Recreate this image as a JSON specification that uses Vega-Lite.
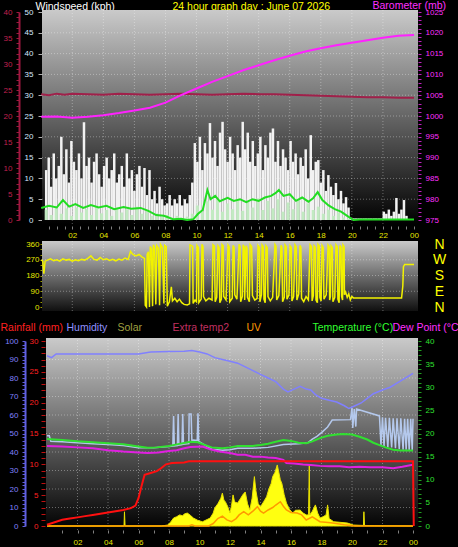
{
"$schema": "https://vega.github.io/schema/vega-lite/v6.json",
"width": 458, "height": 547,
"autosize": {"type": "none"},
"padding": 0,
"background": "#000000",
"usermeta": {"embedOptions": {"actions": false}},
"config": {"view": {"stroke": null}, "axis": {"labelFont": "Liberation Sans", "titleFont": "Liberation Sans", "labelFontSize": 8, "titleFontSize": 10.5, "titleFontWeight": "normal", "grid": false, "labelOverlap": false, "labelFlush": false, "labelBound": false, "titleAngle": 0, "titleAlign": "left", "titleBaseline": "alphabetic", "titlePadding": 0}},
"datasets": {
"one": [{"k": 1}],
"hrs": [{"h":2},{"h":4},{"h":6},{"h":8},{"h":10},{"h":12},{"h":14},{"h":16},{"h":18},{"h":20},{"h":22}],
"gw": [{"v":5},{"v":10},{"v":15},{"v":20},{"v":25},{"v":30},{"v":35},{"v":40},{"v":45}],
"gd": [{"v":90},{"v":180},{"v":270}],
"gh": [{"v":10},{"v":20},{"v":30},{"v":40},{"v":50},{"v":60},{"v":70},{"v":80},{"v":90}],
"gust": [{"m":0,"v":12},{"m":10,"v":15},{"m":20,"v":8},{"m":30,"v":16},{"m":40,"v":10},{"m":50,"v":13},{"m":60,"v":20},{"m":70,"v":11},{"m":80,"v":17},{"m":90,"v":9},{"m":100,"v":19},{"m":110,"v":14},{"m":120,"v":12},{"m":130,"v":16},{"m":140,"v":10},{"m":150,"v":23.5},{"m":160,"v":13},{"m":170,"v":15},{"m":180,"v":9},{"m":190,"v":14},{"m":200,"v":16},{"m":210,"v":11},{"m":220,"v":8},{"m":230,"v":13},{"m":240,"v":15},{"m":250,"v":10},{"m":260,"v":12},{"m":270,"v":16},{"m":280,"v":9},{"m":290,"v":11},{"m":300,"v":13},{"m":310,"v":8},{"m":320,"v":16},{"m":330,"v":10},{"m":340,"v":12},{"m":350,"v":7},{"m":360,"v":11},{"m":370,"v":13},{"m":380,"v":8},{"m":390,"v":12.5},{"m":400,"v":6},{"m":410,"v":12},{"m":420,"v":5},{"m":430,"v":7},{"m":440,"v":4},{"m":450,"v":8},{"m":460,"v":5},{"m":470,"v":3.5},{"m":480,"v":4},{"m":490,"v":6},{"m":500,"v":3.5},{"m":510,"v":5},{"m":520,"v":4},{"m":530,"v":6},{"m":540,"v":3.5},{"m":550,"v":5},{"m":560,"v":4},{"m":570,"v":6},{"m":580,"v":9},{"m":590,"v":18.5},{"m":600,"v":14},{"m":610,"v":20},{"m":620,"v":12},{"m":630,"v":18.5},{"m":640,"v":16},{"m":650,"v":23.3},{"m":660,"v":15},{"m":670,"v":19},{"m":680,"v":13},{"m":690,"v":21},{"m":700,"v":23.6},{"m":710,"v":17},{"m":720,"v":14},{"m":730,"v":20},{"m":740,"v":16},{"m":750,"v":12},{"m":760,"v":18},{"m":770,"v":15},{"m":780,"v":23.6},{"m":790,"v":17},{"m":800,"v":21},{"m":810,"v":14},{"m":820,"v":19},{"m":830,"v":13},{"m":840,"v":16},{"m":850,"v":20},{"m":860,"v":12},{"m":870,"v":18},{"m":880,"v":15},{"m":890,"v":21},{"m":900,"v":22},{"m":910,"v":14},{"m":920,"v":19},{"m":930,"v":13},{"m":940,"v":17},{"m":950,"v":15},{"m":960,"v":12},{"m":970,"v":19},{"m":980,"v":14},{"m":990,"v":16},{"m":1000,"v":11},{"m":1010,"v":15},{"m":1020,"v":13},{"m":1030,"v":17},{"m":1040,"v":10},{"m":1050,"v":20.4},{"m":1060,"v":12},{"m":1070,"v":14},{"m":1080,"v":14.4},{"m":1090,"v":9},{"m":1100,"v":12},{"m":1110,"v":7},{"m":1120,"v":10.8},{"m":1130,"v":8},{"m":1140,"v":6},{"m":1150,"v":8.9},{"m":1160,"v":5},{"m":1170,"v":7},{"m":1180,"v":4},{"m":1190,"v":5.5},{"m":1200,"v":3},{"m":1210,"v":0.4},{"m":1220,"v":0.4},{"m":1230,"v":0.4},{"m":1240,"v":0.4},{"m":1250,"v":0.4},{"m":1260,"v":0.4},{"m":1270,"v":0.4},{"m":1280,"v":0.4},{"m":1290,"v":0.4},{"m":1300,"v":0.4},{"m":1310,"v":0.4},{"m":1320,"v":0.4},{"m":1330,"v":0.4},{"m":1340,"v":2},{"m":1350,"v":1.5},{"m":1360,"v":2.5},{"m":1370,"v":1},{"m":1380,"v":2},{"m":1390,"v":5.3},{"m":1400,"v":1.5},{"m":1410,"v":2.5},{"m":1420,"v":4.8},{"m":1430,"v":1}],
"speed": [{"m":0,"v":2.5},{"m":20,"v":1.2},{"m":40,"v":3.2},{"m":60,"v":1.5},{"m":80,"v":2.8},{"m":100,"v":1.0},{"m":120,"v":3.0},{"m":140,"v":1.8},{"m":160,"v":2.6},{"m":180,"v":1.2},{"m":200,"v":3.0},{"m":220,"v":1.6},{"m":240,"v":2.4},{"m":260,"v":1.0},{"m":280,"v":3.0},{"m":300,"v":1.8},{"m":320,"v":2.6},{"m":340,"v":1.2},{"m":360,"v":3.2},{"m":380,"v":1.5},{"m":400,"v":2.2},{"m":420,"v":1.0},{"m":440,"v":1.6},{"m":460,"v":0.8},{"m":480,"v":1.2},{"m":500,"v":0.5},{"m":520,"v":1.0},{"m":540,"v":0.4},{"m":560,"v":0.8},{"m":580,"v":1.5},{"m":600,"v":3.5},{"m":620,"v":2.0},{"m":640,"v":4.5},{"m":660,"v":2.5},{"m":680,"v":4.8},{"m":700,"v":2.0},{"m":720,"v":4.0},{"m":740,"v":2.6},{"m":760,"v":5.0},{"m":780,"v":2.2},{"m":800,"v":4.4},{"m":820,"v":3.0},{"m":840,"v":5.2},{"m":860,"v":2.4},{"m":880,"v":4.6},{"m":900,"v":2.8},{"m":920,"v":5.0},{"m":940,"v":2.0},{"m":960,"v":4.2},{"m":980,"v":2.6},{"m":1000,"v":4.8},{"m":1020,"v":2.0},{"m":1040,"v":4.0},{"m":1060,"v":2.4},{"m":1080,"v":3.2},{"m":1100,"v":1.5},{"m":1120,"v":2.5},{"m":1140,"v":1.0},{"m":1160,"v":1.8},{"m":1180,"v":0.6},{"m":1200,"v":0.3}],
"avg": [{"h":0,"v":2.9},{"h":0.5,"v":3.4},{"h":1.0,"v":3.0},{"h":1.4,"v":4.8},{"h":1.8,"v":3.2},{"h":2.2,"v":3.8},{"h":2.7,"v":2.9},{"h":3.2,"v":3.6},{"h":3.7,"v":3.0},{"h":4.2,"v":3.4},{"h":4.7,"v":2.6},{"h":5.3,"v":3.1},{"h":5.8,"v":2.7},{"h":6.4,"v":2.9},{"h":6.9,"v":2.2},{"h":7.4,"v":1.2},{"h":7.9,"v":1.0},{"h":8.5,"v":0.2},{"h":9.0,"v":0.3},{"h":9.4,"v":0.0},{"h":9.8,"v":0.2},{"h":10.1,"v":1.5},{"h":10.4,"v":2.4},{"h":10.7,"v":7.2},{"h":10.9,"v":5.0},{"h":11.2,"v":5.8},{"h":11.5,"v":4.5},{"h":12.0,"v":5.3},{"h":12.4,"v":4.6},{"h":12.8,"v":5.0},{"h":13.2,"v":4.3},{"h":13.6,"v":5.0},{"h":14.0,"v":4.6},{"h":14.4,"v":5.4},{"h":14.8,"v":5.8},{"h":15.1,"v":6.5},{"h":15.3,"v":7.2},{"h":15.6,"v":5.8},{"h":16.0,"v":6.2},{"h":16.4,"v":4.6},{"h":16.8,"v":5.4},{"h":17.2,"v":4.4},{"h":17.5,"v":5.2},{"h":17.8,"v":6.7},{"h":18.1,"v":4.8},{"h":18.5,"v":3.5},{"h":18.9,"v":2.6},{"h":19.3,"v":2.0},{"h":19.7,"v":1.0},{"h":20.1,"v":0.0},{"h":20.5,"v":0.1},{"h":24,"v":0.1}],
"baro": [{"h":0,"v":999.8},{"h":1,"v":999.9},{"h":2,"v":999.6},{"h":3,"v":999.8},{"h":4,"v":1000.2},{"h":5,"v":1000.7},{"h":6,"v":1001.3},{"h":7,"v":1002.0},{"h":8,"v":1003.2},{"h":9,"v":1005.0},{"h":10,"v":1006.6},{"h":11,"v":1008.2},{"h":12,"v":1009.6},{"h":13,"v":1011.0},{"h":14,"v":1012.2},{"h":15,"v":1013.4},{"h":16,"v":1014.5},{"h":17,"v":1015.5},{"h":18,"v":1016.3},{"h":19,"v":1017.0},{"h":20,"v":1017.6},{"h":21,"v":1018.2},{"h":22,"v":1018.8},{"h":23,"v":1019.3},{"h":24,"v":1019.5}],
"xt": [{"h":0,"v":24.2},{"h":0.5,"v":24.0},{"h":1.0,"v":24.3},{"h":1.5,"v":24.1},{"h":2,"v":24.3},{"h":3,"v":24.2},{"h":4,"v":24.1},{"h":5,"v":24.3},{"h":6,"v":24.2},{"h":7,"v":24.1},{"h":8,"v":24.2},{"h":9,"v":24.3},{"h":10,"v":24.2},{"h":11,"v":24.1},{"h":12,"v":24.2},{"h":13,"v":24.3},{"h":14,"v":24.2},{"h":15,"v":24.2},{"h":16,"v":24.1},{"h":17,"v":24.0},{"h":18,"v":23.9},{"h":19,"v":23.8},{"h":20,"v":23.7},{"h":21,"v":23.6},{"h":22,"v":23.6},{"h":23,"v":23.5},{"h":24,"v":23.5}],
"dir": [{"h":0,"v":270},{"h":0.1,"v":262},{"h":0.17,"v":190},{"h":0.25,"v":262},{"h":0.4,"v":268},{"h":0.6,"v":275},{"h":0.8,"v":265},{"h":1.0,"v":270},{"h":1.2,"v":262},{"h":1.4,"v":275},{"h":1.6,"v":268},{"h":1.8,"v":272},{"h":2.0,"v":262},{"h":2.2,"v":270},{"h":2.4,"v":265},{"h":2.6,"v":272},{"h":2.8,"v":268},{"h":3.0,"v":278},{"h":3.2,"v":292},{"h":3.4,"v":272},{"h":3.6,"v":268},{"h":3.8,"v":283},{"h":4.0,"v":270},{"h":4.2,"v":276},{"h":4.4,"v":266},{"h":4.6,"v":272},{"h":4.8,"v":264},{"h":5.0,"v":274},{"h":5.2,"v":268},{"h":5.4,"v":280},{"h":5.6,"v":272},{"h":5.75,"v":318},{"h":5.9,"v":300},{"h":6.1,"v":292},{"h":6.3,"v":300},{"h":6.5,"v":285},{"h":6.65,"v":278},{"h":6.7,"v":10},{"h":6.78,"v":0},{"h":6.82,"v":300},{"h":6.9,"v":315},{"h":6.97,"v":0},{"h":7.02,"v":345},{"h":7.1,"v":330},{"h":7.17,"v":5},{"h":7.22,"v":355},{"h":7.3,"v":340},{"h":7.38,"v":15},{"h":7.44,"v":350},{"h":7.55,"v":335},{"h":7.62,"v":10},{"h":7.68,"v":358},{"h":7.8,"v":340},{"h":7.9,"v":20},{"h":7.95,"v":352},{"h":8.05,"v":345},{"h":8.12,"v":5},{"h":8.25,"v":30},{"h":8.38,"v":115},{"h":8.45,"v":35},{"h":8.6,"v":50},{"h":8.75,"v":30},{"h":8.9,"v":45},{"h":9.05,"v":25},{"h":9.2,"v":15},{"h":9.4,"v":12},{"h":9.55,"v":18},{"h":9.58,"v":355},{"h":9.7,"v":350},{"h":9.75,"v":345},{"h":9.78,"v":20},{"h":9.9,"v":40},{"h":10.0,"v":30},{"h":10.03,"v":352},{"h":10.12,"v":340},{"h":10.15,"v":25},{"h":10.3,"v":45},{"h":10.35,"v":358},{"h":10.42,"v":345},{"h":10.45,"v":60},{"h":10.6,"v":35},{"h":10.8,"v":50},{"h":11.0,"v":40},{"h":11.06,"v":356},{"h":11.15,"v":348},{"h":11.2,"v":30},{"h":11.3,"v":55},{"h":11.38,"v":350},{"h":11.45,"v":340},{"h":11.5,"v":25},{"h":11.6,"v":45},{"h":11.64,"v":358},{"h":11.72,"v":350},{"h":11.75,"v":60},{"h":11.9,"v":40},{"h":12.03,"v":355},{"h":12.1,"v":345},{"h":12.14,"v":30},{"h":12.3,"v":50},{"h":12.35,"v":352},{"h":12.42,"v":340},{"h":12.46,"v":70},{"h":12.6,"v":45},{"h":12.74,"v":358},{"h":12.8,"v":345},{"h":12.84,"v":30},{"h":12.95,"v":60},{"h":13.0,"v":355},{"h":13.08,"v":340},{"h":13.1,"v":40},{"h":13.19,"v":350},{"h":13.25,"v":335},{"h":13.28,"v":55},{"h":13.4,"v":30},{"h":13.45,"v":356},{"h":13.55,"v":345},{"h":13.6,"v":65},{"h":13.75,"v":40},{"h":13.9,"v":50},{"h":13.96,"v":352},{"h":14.05,"v":340},{"h":14.08,"v":30},{"h":14.18,"v":70},{"h":14.22,"v":355},{"h":14.3,"v":345},{"h":14.34,"v":45},{"h":14.42,"v":25},{"h":14.47,"v":350},{"h":14.55,"v":340},{"h":14.6,"v":60},{"h":14.75,"v":35},{"h":14.9,"v":55},{"h":15.05,"v":358},{"h":15.12,"v":348},{"h":15.16,"v":40},{"h":15.3,"v":65},{"h":15.44,"v":352},{"h":15.5,"v":340},{"h":15.54,"v":30},{"h":15.65,"v":55},{"h":15.7,"v":355},{"h":15.78,"v":345},{"h":15.82,"v":45},{"h":15.95,"v":70},{"h":16.02,"v":350},{"h":16.1,"v":340},{"h":16.14,"v":35},{"h":16.25,"v":60},{"h":16.34,"v":356},{"h":16.42,"v":345},{"h":16.46,"v":40},{"h":16.58,"v":75},{"h":16.66,"v":352},{"h":16.72,"v":340},{"h":16.76,"v":50},{"h":16.9,"v":30},{"h":17.05,"v":60},{"h":17.2,"v":40},{"h":17.31,"v":355},{"h":17.4,"v":345},{"h":17.44,"v":35},{"h":17.52,"v":65},{"h":17.57,"v":350},{"h":17.65,"v":340},{"h":17.69,"v":40},{"h":17.78,"v":25},{"h":17.82,"v":358},{"h":17.9,"v":348},{"h":17.94,"v":55},{"h":18.02,"v":35},{"h":18.08,"v":352},{"h":18.16,"v":340},{"h":18.2,"v":45},{"h":18.35,"v":70},{"h":18.47,"v":355},{"h":18.54,"v":345},{"h":18.57,"v":40},{"h":18.62,"v":60},{"h":18.66,"v":350},{"h":18.74,"v":340},{"h":18.78,"v":30},{"h":18.9,"v":55},{"h":18.98,"v":356},{"h":19.06,"v":345},{"h":19.1,"v":45},{"h":19.18,"v":25},{"h":19.23,"v":352},{"h":19.3,"v":340},{"h":19.34,"v":60},{"h":19.4,"v":40},{"h":19.43,"v":355},{"h":19.5,"v":345},{"h":19.52,"v":70},{"h":19.6,"v":85},{"h":19.7,"v":55},{"h":19.8,"v":75},{"h":19.9,"v":40},{"h":20.0,"v":60},{"h":20.1,"v":52},{"h":23.2,"v":52},{"h":23.28,"v":120},{"h":23.32,"v":230},{"h":23.4,"v":243},{"h":24.0,"v":243}],
"hum": [{"h":0,"v":92},{"h":0.3,"v":91},{"h":0.6,"v":93},{"h":2,"v":93},{"h":4,"v":93},{"h":6,"v":93},{"h":6.8,"v":94},{"h":8,"v":94.3},{"h":9,"v":94.5},{"h":9.5,"v":94.8},{"h":10,"v":94},{"h":10.5,"v":93},{"h":11,"v":91},{"h":11.5,"v":90},{"h":12,"v":89},{"h":12.5,"v":88},{"h":13,"v":86},{"h":13.5,"v":84},{"h":14,"v":82},{"h":14.5,"v":80},{"h":15,"v":78},{"h":15.5,"v":74},{"h":15.8,"v":72.5},{"h":16.2,"v":74},{"h":16.6,"v":75.5},{"h":17,"v":74},{"h":17.3,"v":73.5},{"h":17.6,"v":71},{"h":18,"v":69},{"h":18.5,"v":68},{"h":19,"v":67},{"h":19.5,"v":65},{"h":19.8,"v":63.5},{"h":20.2,"v":65},{"h":20.6,"v":66.5},{"h":21,"v":69},{"h":21.4,"v":71.5},{"h":22,"v":73.5},{"h":22.5,"v":75},{"h":23,"v":77.5},{"h":23.6,"v":80.5},{"h":24,"v":82.5}],
"rain": [{"h":0,"v":0.2},{"h":0.5,"v":0.6},{"h":1,"v":1.0},{"h":1.5,"v":1.2},{"h":2,"v":1.4},{"h":2.5,"v":1.6},{"h":3,"v":1.8},{"h":3.5,"v":2.0},{"h":4,"v":2.2},{"h":4.5,"v":2.4},{"h":5,"v":2.6},{"h":5.5,"v":2.9},{"h":5.8,"v":3.3},{"h":6.0,"v":4.5},{"h":6.2,"v":6.5},{"h":6.4,"v":8.3},{"h":6.8,"v":8.6},{"h":7.2,"v":8.9},{"h":7.5,"v":9.4},{"h":7.8,"v":10.0},{"h":8.2,"v":10.2},{"h":9.0,"v":10.3},{"h":9.3,"v":10.5},{"h":24,"v":10.5},{"h":24.05,"v":0}],
"temp": [{"h":0,"v":18.8},{"h":1,"v":18.6},{"h":2,"v":18.3},{"h":3,"v":18.1},{"h":4,"v":17.9},{"h":5,"v":17.7},{"h":6,"v":17.2},{"h":6.6,"v":16.9},{"h":7.2,"v":17.0},{"h":8.0,"v":17.3},{"h":8.6,"v":17.7},{"h":9.4,"v":18.2},{"h":9.9,"v":18.1},{"h":10.3,"v":17.6},{"h":10.8,"v":17.0},{"h":11.5,"v":16.8},{"h":12.0,"v":17.0},{"h":12.5,"v":17.3},{"h":13.0,"v":17.3},{"h":13.5,"v":17.3},{"h":14.0,"v":17.5},{"h":14.5,"v":17.8},{"h":15.0,"v":18.2},{"h":15.5,"v":18.6},{"h":16.0,"v":18.4},{"h":16.5,"v":18.0},{"h":17.0,"v":17.9},{"h":17.4,"v":18.3},{"h":17.9,"v":19.0},{"h":18.4,"v":19.5},{"h":19.0,"v":19.8},{"h":19.4,"v":19.9},{"h":20.0,"v":19.8},{"h":20.5,"v":19.3},{"h":21.0,"v":18.7},{"h":21.4,"v":18.0},{"h":21.8,"v":17.5},{"h":22.2,"v":17.0},{"h":22.7,"v":16.5},{"h":23.2,"v":16.3},{"h":24,"v":16.3}],
"dew": [{"h":0,"v":17.3},{"h":1,"v":17.2},{"h":2,"v":17.0},{"h":3,"v":16.8},{"h":4,"v":16.4},{"h":5,"v":16.1},{"h":6,"v":15.9},{"h":6.6,"v":15.8},{"h":7.3,"v":15.9},{"h":8.0,"v":16.2},{"h":8.5,"v":16.4},{"h":9.0,"v":16.8},{"h":9.4,"v":17.1},{"h":10.2,"v":17.2},{"h":10.7,"v":16.6},{"h":11.3,"v":16.1},{"h":12.0,"v":15.8},{"h":12.5,"v":15.4},{"h":13.0,"v":15.4},{"h":13.5,"v":15.0},{"h":14.0,"v":15.0},{"h":14.5,"v":14.8},{"h":15.0,"v":14.7},{"h":15.5,"v":14.3},{"h":15.7,"v":13.6},{"h":16.2,"v":13.5},{"h":16.8,"v":13.3},{"h":17.3,"v":13.2},{"h":17.9,"v":13.0},{"h":18.5,"v":12.9},{"h":19.2,"v":12.9},{"h":19.8,"v":12.7},{"h":20.5,"v":12.8},{"h":21.2,"v":12.7},{"h":22.0,"v":12.7},{"h":22.7,"v":12.5},{"h":23.3,"v":12.8},{"h":23.9,"v":13.2},{"h":24,"v":13.2}],
"xb": [{"h":0,"v":19.5},{"h":0.15,"v":19.5},{"h":0.25,"v":18.3},{"h":1,"v":18.2},{"h":2,"v":18.0},{"h":3,"v":17.8},{"h":4,"v":17.6},{"h":5,"v":17.4},{"h":6,"v":16.9},{"h":7,"v":16.9},{"h":8,"v":17.2},{"h":8.25,"v":17.3},{"h":8.3,"v":23.8},{"h":8.35,"v":17.3},{"h":8.55,"v":17.4},{"h":8.6,"v":24.2},{"h":8.65,"v":17.5},{"h":8.85,"v":17.6},{"h":8.9,"v":24.2},{"h":8.95,"v":17.7},{"h":9.3,"v":17.8},{"h":9.32,"v":24.2},{"h":9.45,"v":24.2},{"h":9.5,"v":18.5},{"h":9.6,"v":18.6},{"h":9.85,"v":18.5},{"h":9.9,"v":24.4},{"h":9.95,"v":18.3},{"h":10.3,"v":17.6},{"h":10.8,"v":16.6},{"h":11.5,"v":16.4},{"h":12,"v":16.5},{"h":12.5,"v":16.8},{"h":13.5,"v":16.8},{"h":14.5,"v":17.0},{"h":15.5,"v":17.6},{"h":16.5,"v":17.8},{"h":17.1,"v":18.0},{"h":17.4,"v":18.8},{"h":17.7,"v":19.4},{"h":18.0,"v":20.2},{"h":18.4,"v":21.4},{"h":18.7,"v":22.9},{"h":19.9,"v":23.0},{"h":20.0,"v":25.5},{"h":20.05,"v":21.2},{"h":20.15,"v":25.3},{"h":20.25,"v":21.5},{"h":20.3,"v":25.3},{"h":21.8,"v":23.8},{"h":21.9,"v":17.5},{"h":22.0,"v":23.5},{"h":22.1,"v":17.2},{"h":22.2,"v":23.4},{"h":22.35,"v":17},{"h":22.45,"v":23.4},{"h":22.6,"v":17},{"h":22.7,"v":23.3},{"h":22.85,"v":16.8},{"h":22.95,"v":23.3},{"h":23.1,"v":16.6},{"h":23.2,"v":23.3},{"h":23.35,"v":16.5},{"h":23.45,"v":23.2},{"h":23.55,"v":16.5},{"h":23.65,"v":23.2},{"h":23.75,"v":16.4},{"h":23.85,"v":23.2},{"h":23.95,"v":16.4},{"h":24.0,"v":23.2}],
"solar": [{"h":0,"v":0},{"h":5.05,"v":0},{"h":5.08,"v":77},{"h":5.12,"v":0},{"h":7.5,"v":0},{"h":7.9,"v":5},{"h":8.1,"v":20},{"h":8.3,"v":43},{"h":8.5,"v":50},{"h":8.7,"v":60},{"h":8.9,"v":55},{"h":9.0,"v":65},{"h":9.2,"v":70},{"h":9.4,"v":58},{"h":9.6,"v":43},{"h":9.9,"v":30},{"h":10.2,"v":23},{"h":10.5,"v":35},{"h":10.7,"v":43},{"h":10.9,"v":70},{"h":11.0,"v":97},{"h":11.2,"v":120},{"h":11.4,"v":150},{"h":11.5,"v":178},{"h":11.6,"v":140},{"h":11.7,"v":130},{"h":11.85,"v":105},{"h":12.0,"v":70},{"h":12.1,"v":110},{"h":12.2,"v":168},{"h":12.3,"v":130},{"h":12.5,"v":124},{"h":12.7,"v":150},{"h":12.85,"v":170},{"h":13.0,"v":184},{"h":13.15,"v":120},{"h":13.3,"v":86},{"h":13.45,"v":150},{"h":13.6,"v":267},{"h":13.7,"v":190},{"h":13.85,"v":120},{"h":14.0,"v":104},{"h":14.2,"v":130},{"h":14.4,"v":158},{"h":14.55,"v":200},{"h":14.7,"v":230},{"h":14.8,"v":267},{"h":14.95,"v":290},{"h":15.1,"v":330},{"h":15.2,"v":290},{"h":15.3,"v":250},{"h":15.4,"v":230},{"h":15.55,"v":170},{"h":15.7,"v":124},{"h":15.9,"v":90},{"h":16.1,"v":70},{"h":16.3,"v":85},{"h":16.6,"v":86},{"h":16.8,"v":70},{"h":17.0,"v":60},{"h":17.15,"v":60},{"h":17.2,"v":335},{"h":17.23,"v":60},{"h":17.4,"v":80},{"h":17.6,"v":114},{"h":17.75,"v":70},{"h":17.9,"v":43},{"h":18.1,"v":50},{"h":18.3,"v":60},{"h":18.4,"v":114},{"h":18.5,"v":40},{"h":18.8,"v":23},{"h":19.2,"v":20},{"h":19.7,"v":16},{"h":20.1,"v":5},{"h":20.75,"v":3},{"h":20.78,"v":77},{"h":20.82,"v":3},{"h":21.5,"v":2},{"h":24,"v":0}],
"uv": [{"h":0,"v":0},{"h":9.3,"v":0},{"h":9.5,"v":0.1},{"h":9.7,"v":0},{"h":10.6,"v":0},{"h":10.9,"v":0.2},{"h":11.2,"v":0.6},{"h":11.5,"v":0.8},{"h":11.8,"v":0.5},{"h":12.1,"v":0.35},{"h":12.4,"v":0.6},{"h":12.6,"v":0.9},{"h":12.9,"v":1.16},{"h":13.2,"v":0.9},{"h":13.5,"v":1.2},{"h":13.8,"v":1.57},{"h":14.0,"v":1.2},{"h":14.2,"v":1.05},{"h":14.5,"v":1.3},{"h":14.8,"v":1.5},{"h":15.0,"v":1.7},{"h":15.3,"v":1.97},{"h":15.5,"v":1.6},{"h":15.7,"v":1.3},{"h":16.0,"v":1.1},{"h":16.4,"v":1.05},{"h":16.7,"v":0.9},{"h":17.0,"v":0.49},{"h":17.4,"v":0.75},{"h":17.9,"v":0.35},{"h":18.6,"v":0.27},{"h":19.5,"v":0.1},{"h":20.2,"v":0},{"h":24,"v":0}]
},
"layer": [
{"data": {"name": "one"}, "mark": {"type": "rect", "fill": {"gradient": "linear", "x1": 0, "y1": 0, "x2": 0, "y2": 1, "stops": [{"offset": 0, "color": "#cacaca"}, {"offset": 1, "color": "#000000"}]}},
 "encoding": {"x": {"datum": 0, "type": "quantitative", "scale": {"domain": [0, 1], "range": [42, 418], "zero": false, "nice": false}, "axis": null}, "x2": {"datum": 1},
  "y": {"datum": 0, "type": "quantitative", "scale": {"domain": [0, 1], "range": [224, 10], "zero": false, "nice": false}, "axis": null}, "y2": {"datum": 1}}},
{"data": {"name": "hrs"}, "mark": {"type": "rule", "stroke": "#ffffff", "strokeOpacity": 0.35, "strokeDash": [1, 2]},
 "encoding": {"x": {"field": "h", "type": "quantitative", "scale": {"domain": [0, 24], "range": [41.2, 414], "zero": false, "nice": false}, "axis": null},
  "y": {"datum": 0, "type": "quantitative", "scale": {"domain": [0, 1], "range": [224, 10], "zero": false, "nice": false}, "axis": null}, "y2": {"datum": 1}}},
{"data": {"name": "gw"}, "mark": {"type": "rule", "stroke": "#ffffff", "strokeOpacity": 0.35, "strokeDash": [1, 2]},
 "encoding": {"y": {"field": "v", "type": "quantitative", "scale": {"domain": [0, 50], "range": [220, 12], "zero": false, "nice": false}, "axis": null},
  "x": {"datum": 0, "type": "quantitative", "scale": {"domain": [0, 1], "range": [42, 418], "zero": false, "nice": false}, "axis": null}, "x2": {"datum": 1}}},
{"data": {"name": "gust"}, "mark": {"type": "bar", "size": 2.5, "color": "#f2f2f2"},
 "encoding": {"x": {"field": "m", "type": "quantitative", "scale": {"domain": [0, 1440], "range": [41.2, 414], "zero": false, "nice": false}, "axis": null},
  "y": {"field": "v", "type": "quantitative", "scale": {"domain": [0, 50], "range": [220, 12], "zero": false, "nice": false},
   "axis": {"orient": "left", "offset": -42, "values": [0, 5, 10, 15, 20, 25, 30, 35, 40, 45, 50], "format": "d", "labelColor": "#d6e8ff", "tickColor": "#b0b0b0", "tickSize": 4, "labelPadding": 5, "domain": false,
    "title": "Windspeed (kph)", "titleColor": "#ffffff", "titleX": -7, "titleY": 9}},
  "y2": {"datum": 0}}},
{"data": {"name": "speed"}, "mark": {"type": "bar", "size": 3, "color": "#c2eac2"},
 "encoding": {"x": {"field": "m", "type": "quantitative", "scale": {"domain": [0, 1440], "range": [41.2, 414], "zero": false, "nice": false}, "axis": null},
  "y": {"field": "v", "type": "quantitative", "scale": {"domain": [0, 50], "range": [220, 12], "zero": false, "nice": false}, "axis": null},
  "y2": {"datum": 0}}},
{"data": {"name": "avg"}, "mark": {"type": "line", "color": "#22dd22", "strokeWidth": 2},
 "encoding": {"x": {"field": "h", "type": "quantitative", "scale": {"domain": [0, 24], "range": [41.2, 414], "zero": false, "nice": false},
   "axis": {"orient": "bottom", "offset": -321, "values": [0.5, 1, 1.5, 2, 2.5, 3, 3.5, 4, 4.5, 5, 5.5, 6, 6.5, 7, 7.5, 8, 8.5, 9, 9.5, 10, 10.5, 11, 11.5, 12, 12.5, 13, 13.5, 14, 14.5, 15, 15.5, 16, 16.5, 17, 17.5, 18, 18.5, 19, 19.5, 20, 20.5, 21, 21.5, 22, 22.5, 23, 23.5, 24],
    "labelExpr": "datum.value > 0 && datum.value % 2 == 0 ? (datum.value == 24 ? '00' : (datum.value < 10 ? '0' : '') + datum.value) : ''",
    "labelColor": "#e6e600", "tickColor": "#808080", "tickSize": 3, "labelPadding": 2, "domain": false,
    "title": "UV", "titleColor": "#ff9900", "titleX": 246, "titleY": 104}},
  "y": {"field": "v", "type": "quantitative", "scale": {"domain": [0, 50], "range": [220, 12], "zero": false, "nice": false}, "axis": null}}},
{"data": {"name": "xt"}, "mark": {"type": "line", "color": "#a0204a", "strokeWidth": 2},
 "encoding": {"x": {"field": "h", "type": "quantitative", "scale": {"domain": [0, 24], "range": [41.2, 414], "zero": false, "nice": false}, "axis": null},
  "y": {"field": "v", "type": "quantitative", "scale": {"domain": [0, 40], "range": [220, 12], "zero": false, "nice": false},
   "axis": {"orient": "left", "offset": -19, "values": [0,1,2,3,4,5,6,7,8,9,10,11,12,13,14,15,16,17,18,19,20,21,22,23,24,25,26,27,28,29,30,31,32,33,34,35,36,37,38,39,40], "format": "d",
    "labelExpr": "datum.value % 5 == 0 ? datum.label : ''", "labelColor": "#c02050", "tickColor": "#a01840", "tickSize": 3, "labelPadding": 4, "domain": true, "domainColor": "#a01840", "domainWidth": 2,
    "title": "24 hour graph day : June 07 2026", "titleColor": "#ffff00", "titleX": 153, "titleY": 9}}}},
{"data": {"name": "baro"}, "mark": {"type": "line", "color": "#ff22ff", "strokeWidth": 2},
 "encoding": {"x": {"field": "h", "type": "quantitative", "scale": {"domain": [0, 24], "range": [41.2, 414], "zero": false, "nice": false}, "axis": null},
  "y": {"field": "v", "type": "quantitative", "scale": {"domain": [975, 1025], "range": [220, 12], "zero": false, "nice": false},
   "axis": {"orient": "right", "offset": -40, "values": [975,976,977,978,979,980,981,982,983,984,985,986,987,988,989,990,991,992,993,994,995,996,997,998,999,1000,1001,1002,1003,1004,1005,1006,1007,1008,1009,1010,1011,1012,1013,1014,1015,1016,1017,1018,1019,1020,1021,1022,1023,1024,1025], "format": "d",
    "labelExpr": "datum.value % 5 == 0 ? datum.label : ''", "labelColor": "#ff30ff", "tickColor": "#c020c0", "tickSize": 3, "labelPadding": 4, "domain": false,
    "title": "Barometer (mb)", "titleColor": "#ff30ff", "titleX": -46, "titleY": 8}}}},
{"data": {"name": "one"}, "mark": {"type": "rect", "fill": {"gradient": "linear", "x1": 0, "y1": 0, "x2": 0, "y2": 1, "stops": [{"offset": 0, "color": "#cacaca"}, {"offset": 1, "color": "#101010"}]}},
 "encoding": {"x": {"datum": 0, "type": "quantitative", "scale": {"domain": [0, 1], "range": [42, 418], "zero": false, "nice": false}, "axis": null}, "x2": {"datum": 1},
  "y": {"datum": 0, "type": "quantitative", "scale": {"domain": [0, 1], "range": [311, 241], "zero": false, "nice": false}, "axis": null}, "y2": {"datum": 1}}},
{"data": {"name": "hrs"}, "mark": {"type": "rule", "stroke": "#ffffff", "strokeOpacity": 0.35, "strokeDash": [1, 2]},
 "encoding": {"x": {"field": "h", "type": "quantitative", "scale": {"domain": [0, 24], "range": [41.2, 414], "zero": false, "nice": false}, "axis": null},
  "y": {"datum": 0, "type": "quantitative", "scale": {"domain": [0, 1], "range": [311, 241], "zero": false, "nice": false}, "axis": null}, "y2": {"datum": 1}}},
{"data": {"name": "gd"}, "mark": {"type": "rule", "stroke": "#ffffff", "strokeOpacity": 0.35, "strokeDash": [1, 2]},
 "encoding": {"y": {"field": "v", "type": "quantitative", "scale": {"domain": [0, 360], "range": [307, 244], "zero": false, "nice": false}, "axis": null},
  "x": {"datum": 0, "type": "quantitative", "scale": {"domain": [0, 1], "range": [42, 418], "zero": false, "nice": false}, "axis": null}, "x2": {"datum": 1}}},
{"data": {"name": "dir"}, "mark": {"type": "line", "color": "#f2f200", "strokeWidth": 1.5},
 "encoding": {"x": {"field": "h", "type": "quantitative", "scale": {"domain": [0, 24], "range": [41.2, 414], "zero": false, "nice": false}, "axis": null},
  "y": {"field": "v", "type": "quantitative", "scale": {"domain": [0, 360], "range": [307, 244], "zero": false, "nice": false},
   "axis": {"orient": "left", "offset": -43, "values": [0, 30, 60, 90, 120, 150, 180, 210, 240, 270, 300, 330, 360], "format": "d",
    "labelExpr": "datum.value % 90 == 0 ? datum.label : ''", "labelColor": "#e6e600", "tickColor": "#a0a000", "tickSize": 3, "labelPadding": 1, "domain": false,
    "title": "Solar", "titleColor": "#a0a040", "titleX": 74, "titleY": 330}}}},
{"data": {"name": "dir"}, "mark": {"type": "line", "opacity": 0},
 "encoding": {"x": {"field": "h", "type": "quantitative", "scale": {"domain": [0, 24], "range": [41.2, 414], "zero": false, "nice": false}, "axis": null},
  "y": {"field": "v", "type": "quantitative", "scale": {"domain": [0, 360], "range": [307, 244], "zero": false, "nice": false},
   "axis": {"orient": "right", "offset": -40, "values": [0, 90, 180, 270, 360], "labelExpr": "['N','E','S','W','N'][datum.value / 90]",
    "labelColor": "#ffff00", "labelFontSize": 14, "labelPadding": 21, "labelAlign": "center", "labelBaseline": "middle", "ticks": false, "domain": false,
    "title": "Extra temp2", "titleColor": "#c03060", "titleX": -246, "titleY": 330}}}},
{"data": {"name": "one"}, "mark": {"type": "rect", "fill": {"gradient": "linear", "x1": 0, "y1": 0, "x2": 0, "y2": 1, "stops": [{"offset": 0, "color": "#cacaca"}, {"offset": 1, "color": "#000000"}]}},
 "encoding": {"x": {"datum": 0, "type": "quantitative", "scale": {"domain": [0, 1], "range": [46, 418], "zero": false, "nice": false}, "axis": null}, "x2": {"datum": 1},
  "y": {"datum": 0, "type": "quantitative", "scale": {"domain": [0, 1], "range": [530, 338], "zero": false, "nice": false}, "axis": null}, "y2": {"datum": 1}}},
{"data": {"name": "hrs"}, "mark": {"type": "rule", "stroke": "#ffffff", "strokeOpacity": 0.35, "strokeDash": [1, 2]},
 "encoding": {"x": {"field": "h", "type": "quantitative", "scale": {"domain": [0, 24], "range": [47, 413], "zero": false, "nice": false}, "axis": null},
  "y": {"datum": 0, "type": "quantitative", "scale": {"domain": [0, 1], "range": [530, 338], "zero": false, "nice": false}, "axis": null}, "y2": {"datum": 1}}},
{"data": {"name": "gh"}, "mark": {"type": "rule", "stroke": "#ffffff", "strokeOpacity": 0.35, "strokeDash": [1, 2]},
 "encoding": {"y": {"field": "v", "type": "quantitative", "scale": {"domain": [0, 100], "range": [526, 341], "zero": false, "nice": false}, "axis": null},
  "x": {"datum": 0, "type": "quantitative", "scale": {"domain": [0, 1], "range": [46, 418], "zero": false, "nice": false}, "axis": null}, "x2": {"datum": 1}}},
{"data": {"name": "solar"}, "mark": {"type": "area", "fill": "#ffff10", "stroke": "#e8e000", "strokeWidth": 1},
 "encoding": {"x": {"field": "h", "type": "quantitative", "scale": {"domain": [0, 24], "range": [47, 413], "zero": false, "nice": false}, "axis": null},
  "y": {"field": "v", "type": "quantitative", "scale": {"domain": [0, 1000], "range": [526, 341], "zero": false, "nice": false}, "axis": null},
  "y2": {"datum": 0}}},
{"data": {"name": "uv"}, "mark": {"type": "line", "color": "#ff9900", "strokeWidth": 1.5},
 "encoding": {"x": {"field": "h", "type": "quantitative", "scale": {"domain": [0, 24], "range": [47, 413], "zero": false, "nice": false}, "axis": null},
  "y": {"field": "v", "type": "quantitative", "scale": {"domain": [0, 15], "range": [526, 341], "zero": false, "nice": false}, "axis": null}}},
{"data": {"name": "hum"}, "mark": {"type": "line", "color": "#8080ff", "strokeWidth": 1.5},
 "encoding": {"x": {"field": "h", "type": "quantitative", "scale": {"domain": [0, 24], "range": [47, 413], "zero": false, "nice": false},
   "axis": {"orient": "bottom", "offset": -17, "values": [1, 2, 3, 4, 5, 6, 7, 8, 9, 10, 11, 12, 13, 14, 15, 16, 17, 18, 19, 20, 21, 22, 23, 24],
    "labelExpr": "datum.value > 0 && datum.value % 2 == 0 ? (datum.value == 24 ? '00' : (datum.value < 10 ? '0' : '') + datum.value) : ''",
    "labelColor": "#e6e600", "tickColor": "#808080", "tickSize": 3, "labelPadding": 5, "domain": false,
    "title": "Dew Point (°C)", "titleColor": "#ff30ff", "titleX": 392, "titleY": -200}},
  "y": {"field": "v", "type": "quantitative", "scale": {"domain": [0, 100], "range": [526, 341], "zero": false, "nice": false},
   "axis": {"orient": "left", "offset": -25, "values": [0,2,4,6,8,10,12,14,16,18,20,22,24,26,28,30,32,34,36,38,40,42,44,46,48,50,52,54,56,58,60,62,64,66,68,70,72,74,76,78,80,82,84,86,88,90,92,94,96,98,100], "format": "d",
    "labelExpr": "datum.value % 10 == 0 ? datum.label : ''", "labelColor": "#8080ff", "tickColor": "#6060e0", "tickSize": 3, "labelPadding": 4, "domain": true, "domainColor": "#6060e0", "domainWidth": 2,
    "title": "Humidity", "titleColor": "#9090ff", "titleX": 41, "titleY": 330}}}},
{"data": {"name": "xb"}, "mark": {"type": "line", "color": "#b4c8ec", "strokeWidth": 1.5},
 "encoding": {"x": {"field": "h", "type": "quantitative", "scale": {"domain": [0, 24], "range": [47, 413], "zero": false, "nice": false}, "axis": null},
  "y": {"field": "v", "type": "quantitative", "scale": {"domain": [0, 40], "range": [526, 341], "zero": false, "nice": false}, "axis": null}}},
{"data": {"name": "temp"}, "mark": {"type": "line", "color": "#30e030", "strokeWidth": 2},
 "encoding": {"x": {"field": "h", "type": "quantitative", "scale": {"domain": [0, 24], "range": [47, 413], "zero": false, "nice": false}, "axis": null},
  "y": {"field": "v", "type": "quantitative", "scale": {"domain": [0, 40], "range": [526, 341], "zero": false, "nice": false},
   "axis": {"orient": "right", "offset": -40, "values": [0,1,2,3,4,5,6,7,8,9,10,11,12,13,14,15,16,17,18,19,20,21,22,23,24,25,26,27,28,29,30,31,32,33,34,35,36,37,38,39,40], "format": "d",
    "labelExpr": "datum.value % 5 == 0 ? datum.label : ''", "labelColor": "#30e030", "tickColor": "#20a020", "tickSize": 3, "labelPadding": 4, "domain": false,
    "title": "Temperature (°C)", "titleColor": "#30ff30", "titleX": -106, "titleY": 330}}}},
{"data": {"name": "dew"}, "mark": {"type": "line", "color": "#e020e0", "strokeWidth": 2},
 "encoding": {"x": {"field": "h", "type": "quantitative", "scale": {"domain": [0, 24], "range": [47, 413], "zero": false, "nice": false}, "axis": null},
  "y": {"field": "v", "type": "quantitative", "scale": {"domain": [0, 40], "range": [526, 341], "zero": false, "nice": false}, "axis": null}}},
{"data": {"name": "rain"}, "mark": {"type": "line", "color": "#ff1010", "strokeWidth": 2},
 "encoding": {"x": {"field": "h", "type": "quantitative", "scale": {"domain": [0, 24], "range": [47, 413], "zero": false, "nice": false}, "axis": null},
  "y": {"field": "v", "type": "quantitative", "scale": {"domain": [0, 30], "range": [526, 341], "zero": false, "nice": false},
   "axis": {"orient": "left", "offset": -45, "values": [0,1,2,3,4,5,6,7,8,9,10,11,12,13,14,15,16,17,18,19,20,21,22,23,24,25,26,27,28,29,30], "format": "d",
    "labelExpr": "datum.value % 5 == 0 ? datum.label : ''", "labelColor": "#ff2020", "tickColor": "#c01010", "tickSize": 4, "labelPadding": 3, "domain": false,
    "title": "Rainfall (mm)", "titleColor": "#ff2020", "titleX": -45, "titleY": 330}}}}
],
"resolve": {"scale": {"x": "independent", "y": "independent"}, "axis": {"x": "independent", "y": "independent"}}
}
